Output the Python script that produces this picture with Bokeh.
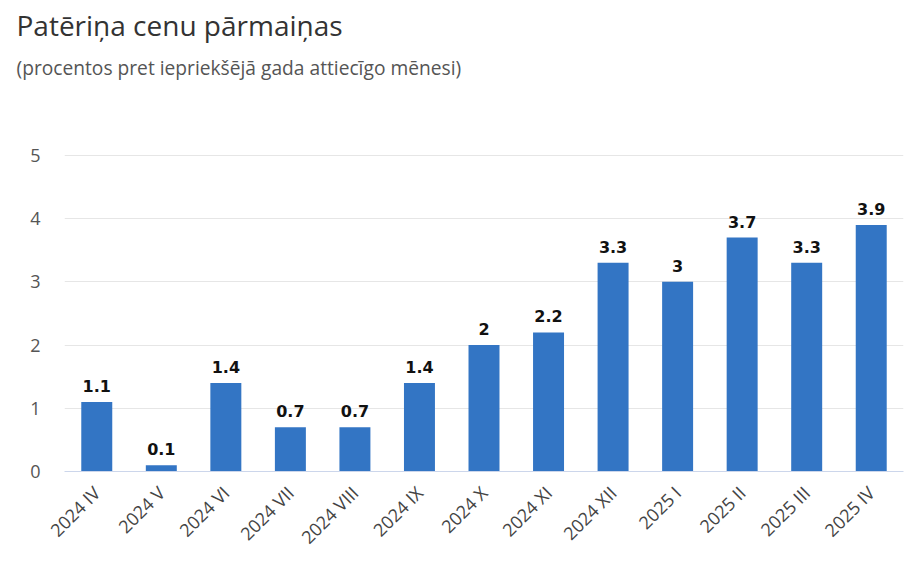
import math
from bokeh.plotting import figure
from bokeh.models import FactorRange, Range1d, Title, FixedTicker, ColumnDataSource
from bokeh.core.properties import value
from bokeh.embed import file_html
from bokeh.resources import INLINE

categories = ["2024 IV", "2024 V", "2024 VI", "2024 VII", "2024 VIII", "2024 IX", "2024 X",
              "2024 XI", "2024 XII", "2025 I", "2025 II", "2025 III", "2025 IV"]
values = [1.1, 0.1, 1.4, 0.7, 0.7, 1.4, 2.0, 2.2, 3.3, 3.0, 3.7, 3.3, 3.9]
y_ticks = [0, 1, 2, 3, 4, 5]
title_text = "Patēriņa cenu pārmaiņas"
subtitle_text = "(procentos pret iepriekšējā gada attiecīgo mēnesi)"

labels = [f"{v:g}" for v in values]
src = ColumnDataSource(dict(cat=categories, val=values, lab=labels))

p = figure(width=915, height=560, output_backend="svg", toolbar_location=None,
           x_range=FactorRange(*categories, range_padding=0), y_range=Range1d(0, 5.03),
           title=None, min_border_left=64, min_border_right=12, min_border_bottom=89)

p.add_layout(Title(text=" ", text_font_size="50px"), "above")
p.add_layout(Title(text=subtitle_text, text_font="Open Sans", text_font_size="19.2px",
                   text_font_style="normal", text_color="#555555", offset=-48), "above")
p.add_layout(Title(text=title_text, text_font="Open Sans", text_font_size="28px",
                   text_font_style="normal", text_color="#333333", offset=-48,
                   standoff=6), "above")

p.vbar(x="cat", top="val", width=0.48, source=src, color="#3375C4", line_color=None)
p.text(x="cat", y="val", text="lab", source=src, y_offset=-10, text_align="center",
       text_baseline="bottom", text_font=value("DejaVu Sans"), text_font_size="16px",
       text_font_style="bold", text_color="#111111")

p.outline_line_color = None
p.xgrid.grid_line_color = None
p.ygrid.grid_line_color = "#e6e6e6"
p.yaxis.ticker = FixedTicker(ticks=y_ticks)
p.yaxis.axis_line_color = None
p.yaxis.major_tick_line_color = None
p.yaxis.minor_tick_line_color = None
p.yaxis.major_label_standoff = 18
p.yaxis.major_label_text_font = "Open Sans"
p.yaxis.major_label_text_font_size = "18px"
p.yaxis.major_label_text_color = "#555555"

p.xaxis.axis_line_color = "#ccd6eb"
p.xaxis.major_tick_line_color = None
p.xaxis.minor_tick_line_color = None
p.xaxis.major_label_orientation = math.pi / 4
p.xaxis.major_label_standoff = 12
p.xaxis.major_label_text_font = "Open Sans"
p.xaxis.major_label_text_font_size = "18px"
p.xaxis.major_label_text_color = "#444444"

open("out.html", "w").write(file_html(p, INLINE))
